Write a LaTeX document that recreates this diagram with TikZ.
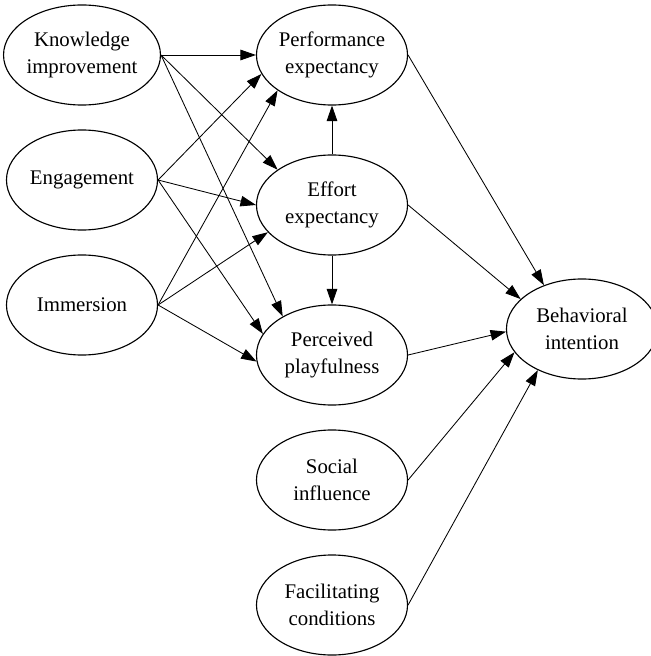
\documentclass[tikz,border=0pt]{standalone}
\usepackage{fontspec}
\setmainfont{Liberation Serif}
\usetikzlibrary{arrows,shapes,arrows.meta}
\tikzset{every node/.style={align=center}}
\tikzset{construct/.style={draw,ellipse,line width=0.8pt,minimum width=3.775cm,minimum height=2.5cm,inner sep=0pt,font=\fontsize{14.8}{19}\selectfont}}
\tikzset{link/.style={-{Triangle[length=11pt,width=7.5pt]},line width=0.6pt}}

\begin{document}
\begin{tikzpicture}[x=0.025cm,y=-0.025cm]
        \useasboundingbox (0,0) rectangle (650,656);

        \node[construct] (know) at (82,55) {Knowledge\\improvement};
        \node[construct] (engage) at (82,180) {Engagement};
        \node[construct] (immerse) at (82,305) {Immersion};
        \node[construct] (perf) at (332,55) {Performance\\expectancy};
        \node[construct] (effort) at (332,205) {Effort\\expectancy};
        \node[construct] (play) at (332,355) {Perceived\\playfulness};
        \node[construct] (social) at (332,480) {Social\\influence};
        \node[construct] (facil) at (332,605) {Facilitating\\conditions};
        \node[construct] (intent) at (582,329) {Behavioral\\intention};

        % knowledge improvement to middle column
        \draw[link] (know.east) -- (perf.180);
        \draw[link] (know.east) -- (effort.147);
        \draw[link] (know.east) -- (play.142);

        % engagement to middle column
        \draw[link] (engage.east) -- (perf.195);
        \draw[link] (engage.east) -- (effort.180);
        \draw[link] (engage.east) -- (play.163);

        % immersion to middle column
        \draw[link] (immerse.east) -- (perf.213);
        \draw[link] (immerse.east) -- (effort.203);
        \draw[link] (immerse.east) -- (play.185);

        % effort expectancy up and down
        \draw[link] (effort.north) -- (perf.south);
        \draw[link] (effort.south) -- (play.north);

        % everything to behavioral intention
        \draw[link] (perf.east) -- (intent.131);
        \draw[link] (effort.east) -- (intent.154);
        \draw[link] (play.east) -- (intent.182);
        \draw[link] (social.east) -- (intent.199);
        \draw[link] (facil.east) -- (intent.223);

    \end{tikzpicture}
\end{document}
